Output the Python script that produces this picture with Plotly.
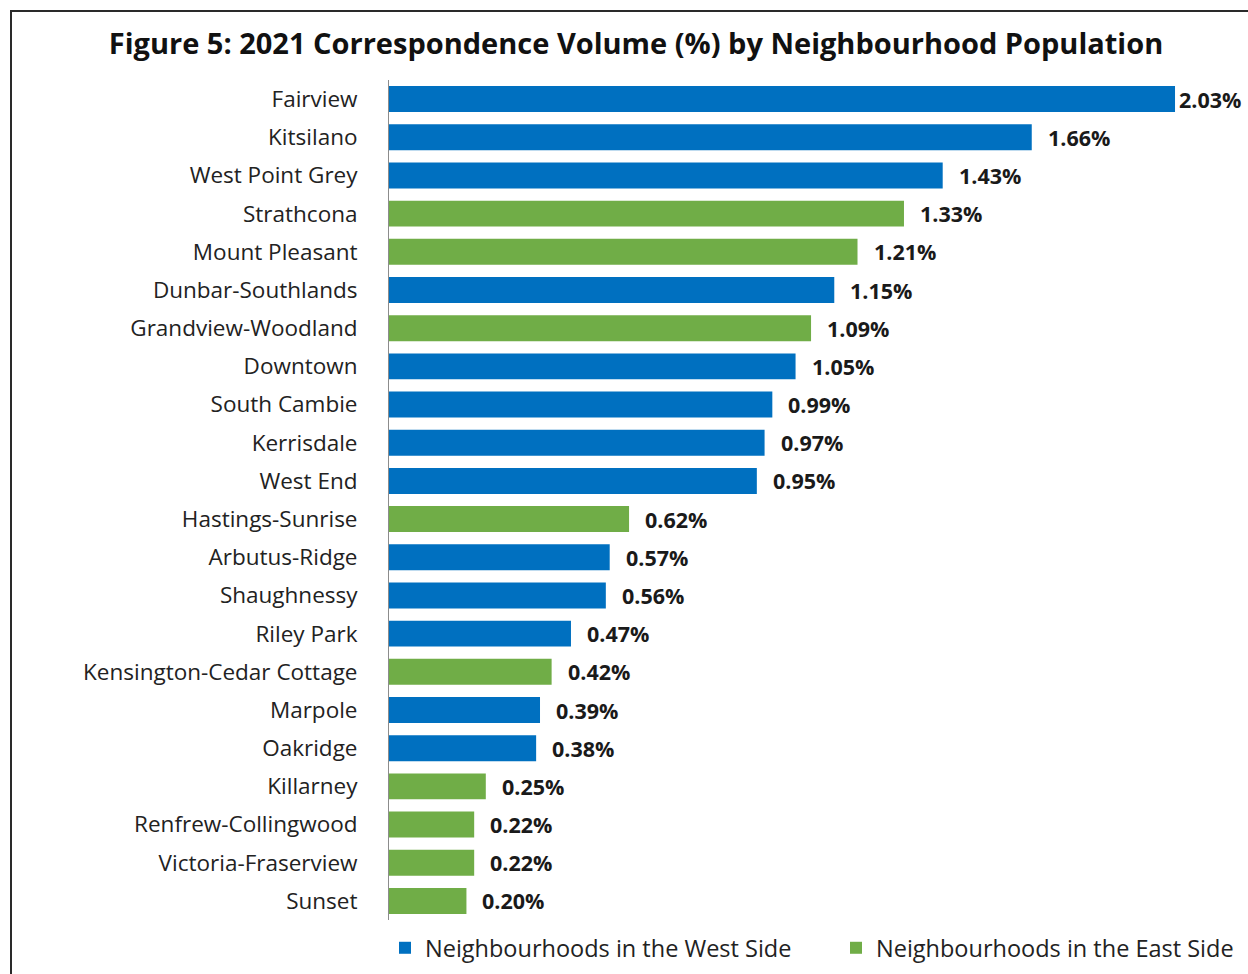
import plotly.graph_objects as go

# Neighbourhoods in display order (top to bottom)
neighbourhoods = [
    "Fairview", "Kitsilano", "West Point Grey", "Strathcona", "Mount Pleasant",
    "Dunbar-Southlands", "Grandview-Woodland", "Downtown", "South Cambie",
    "Kerrisdale", "West End", "Hastings-Sunrise", "Arbutus-Ridge", "Shaughnessy",
    "Riley Park", "Kensington-Cedar Cottage", "Marpole", "Oakridge", "Killarney",
    "Renfrew-Collingwood", "Victoria-Fraserview", "Sunset",
]
volume_pct = [
    2.03, 1.66, 1.43, 1.33, 1.21, 1.15, 1.09, 1.05, 0.99, 0.97, 0.95,
    0.62, 0.57, 0.56, 0.47, 0.42, 0.39, 0.38, 0.25, 0.22, 0.22, 0.20,
]
side = [
    "West", "West", "West", "East", "East", "West", "East", "West", "West",
    "West", "West", "East", "West", "West", "West", "East", "West", "West",
    "East", "East", "East", "East",
]

WEST_COLOR = "#0070C0"
EAST_COLOR = "#70AD47"
FONT = "Open Sans"

W, H = 1248, 974
ML, MR, MT, MB = 389, 0, 80, 54
plot_w = W - ML - MR
plot_h = H - MT - MB
px_per_unit = 387.2  # horizontal scale of the value axis


def px_to_paper_x(px):
    return (px - ML) / plot_w


def px_to_paper_y(py):
    return (H - MB - py) / plot_h


fig = go.Figure()
series = [
    ("Neighbourhoods in the West Side", WEST_COLOR, "West", "legend"),
    ("Neighbourhoods in the East Side", EAST_COLOR, "East", "legend2"),
]
for name, color, key, leg in series:
    ys = [n for n, s in zip(neighbourhoods, side) if s == key]
    xs = [v for v, s in zip(volume_pct, side) if s == key]
    fig.add_trace(go.Bar(
        x=xs, y=ys, orientation="h", name=name, legend=leg,
        marker=dict(color=color, line=dict(width=0)),
        hoverinfo="x+y",
    ))

# value labels to the right of each bar
max_v = max(volume_pct)
for n, v in zip(neighbourhoods, volume_pct):
    fig.add_annotation(
        x=v, y=n, xref="x", yref="y", text=f"<b>{v:.2f}%</b>",
        showarrow=False, xanchor="left", yanchor="middle",
        xshift=2 if v == max_v else 14,
        font=dict(family=FONT, size=21.5, color="#1a1a1a"),
    )

# outer frame
fig.add_shape(
    type="rect", xref="paper", yref="paper",
    x0=px_to_paper_x(11), x1=px_to_paper_x(W + 20),
    y0=px_to_paper_y(H + 20), y1=px_to_paper_y(11),
    line=dict(color="#2a2a2a", width=2), fillcolor="rgba(0,0,0,0)",
    layer="below",
)

legend_common = dict(
    orientation="h", xanchor="left",
    y=px_to_paper_y(948), yanchor="middle",
    font=dict(family=FONT, size=23.5, color="#222222"),
    itemwidth=30, bgcolor="rgba(0,0,0,0)",
)

fig.update_layout(
    width=W, height=H,
    margin=dict(l=ML, r=MR, t=MT, b=MB),
    paper_bgcolor="white", plot_bgcolor="white",
    barmode="relative", bargap=0.32,
    title=dict(
        text="<b>Figure 5: 2021 Correspondence Volume (%) by Neighbourhood Population</b>",
        x=636 / W, xanchor="center", xref="container",
        y=1 - 44 / H, yanchor="middle",
        font=dict(family=FONT, size=29, color="#111111"),
    ),
    font=dict(family=FONT, size=22.5, color="#222222"),
    xaxis=dict(
        range=[0, plot_w / px_per_unit], visible=False, fixedrange=True,
    ),
    yaxis=dict(
        categoryorder="array", categoryarray=neighbourhoods,
        autorange="reversed", showline=True, linecolor="#8c8c8c", linewidth=1,
        showgrid=False, ticks="", ticklabelstandoff=26,
        tickfont=dict(family=FONT, size=22.5, color="#222222"),
    ),
    legend=dict(x=px_to_paper_x(385), **legend_common),
    legend2=dict(x=px_to_paper_x(836), **legend_common),
    showlegend=True,
)

fig.write_html("out.html")
